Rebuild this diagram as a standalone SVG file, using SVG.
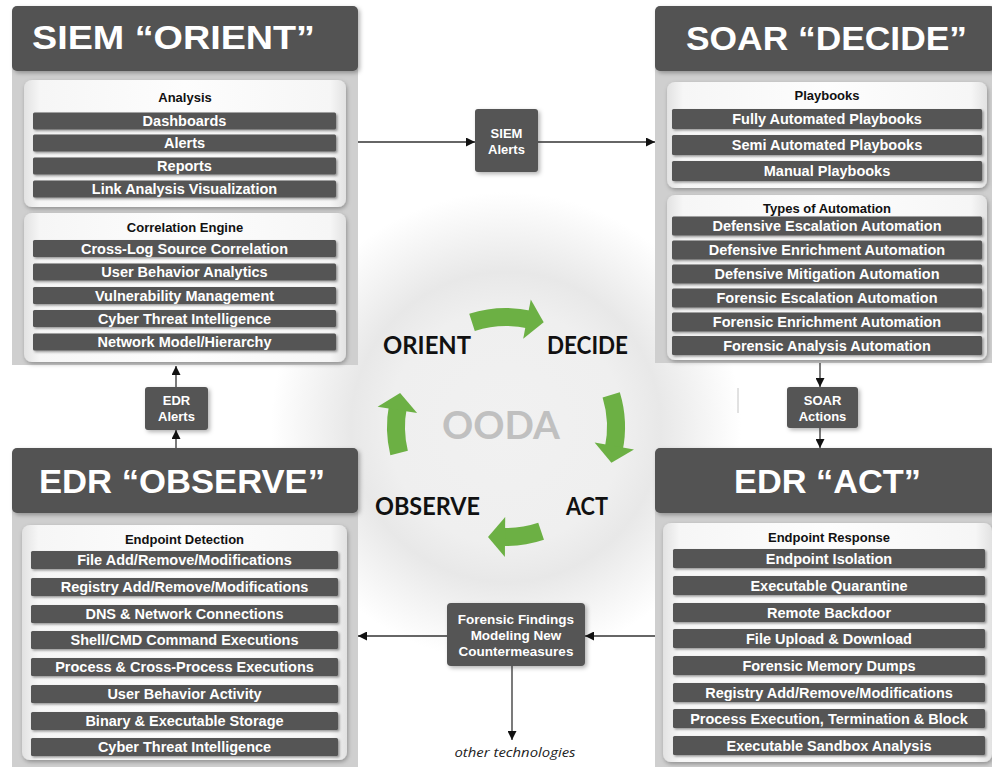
<svg xmlns="http://www.w3.org/2000/svg" width="992" height="767" viewBox="0 0 992 767">
<defs>
<style>
.hdr{fill:#525252}
.body{fill:#cfcfcf}
.card{fill:url(#cardG)}
.bar{fill:#555555}
.bt{font-family:"Liberation Sans",Arial,sans-serif;font-weight:bold;font-size:14.5px;fill:#ffffff;text-anchor:middle}
.lbl{font-family:"Liberation Sans",Arial,sans-serif;font-weight:bold;font-size:13px;fill:#111111;text-anchor:middle}
.ht{font-family:"Liberation Sans",Arial,sans-serif;font-weight:bold;font-size:34px;fill:#ffffff;text-anchor:middle}
.bx{fill:#545454}
.bxt{font-family:"Liberation Sans",Arial,sans-serif;font-weight:bold;font-size:13px;fill:#ffffff;text-anchor:middle}
.oo{font-family:Lato,"Open Sans",sans-serif;font-weight:bold;font-size:24px;fill:#111111;text-anchor:middle}
.conn{stroke:#333333;stroke-width:1.3;fill:none;marker-end:url(#ah)}
.garc{fill:none;stroke:#6cb044;stroke-width:18}
.ghead{fill:#6cb044}
</style>
<radialGradient id="bgG" cx="506" cy="427" r="235" gradientUnits="userSpaceOnUse">
<stop offset="0" stop-color="#f1f1f1"/>
<stop offset="0.5" stop-color="#efefef"/>
<stop offset="0.66" stop-color="#e8e8e8"/>
<stop offset="0.82" stop-color="#f3f3f3"/>
<stop offset="1" stop-color="#ffffff"/>
</radialGradient>
<linearGradient id="cardG" x1="0" y1="0" x2="1" y2="0">
<stop offset="0" stop-color="#e2e2e2"/>
<stop offset="0.05" stop-color="#f6f6f6"/>
<stop offset="0.5" stop-color="#fdfdfd"/>
<stop offset="0.95" stop-color="#f6f6f6"/>
<stop offset="1" stop-color="#e2e2e2"/>
</linearGradient>
<filter id="sh" x="-10%" y="-10%" width="130%" height="140%">
<feDropShadow dx="2" dy="2" stdDeviation="2" flood-color="#000" flood-opacity="0.3"/>
</filter>
<filter id="csh" x="-5%" y="-5%" width="115%" height="115%">
<feDropShadow dx="1" dy="2" stdDeviation="2" flood-color="#000" flood-opacity="0.3"/>
</filter>
<filter id="bsh" x="-5%" y="-10%" width="115%" height="130%">
<feDropShadow dx="1.5" dy="1.5" stdDeviation="1" flood-color="#000" flood-opacity="0.4"/>
</filter>
<marker id="ah" viewBox="0 0 10 10" refX="10" refY="5" markerWidth="9" markerHeight="9" orient="auto" markerUnits="userSpaceOnUse">
<path d="M0,0 L10,5 L0,10 z" fill="#111111"/>
</marker>
</defs>

<g id="background">
<rect x="0" y="0" width="992" height="767" fill="#ffffff"/>
<rect x="0" y="0" width="992" height="767" fill="url(#bgG)"/>
<line x1="738" y1="388" x2="738" y2="413" stroke="#c4c4c4" stroke-width="1"/>
</g>

<g id="siem-orient">
<rect class="body" x="12" y="60" width="346" height="305"/>
<rect class="hdr" x="12" y="6" width="346" height="65" rx="5" filter="url(#sh)"/>
<text class="ht" x="173.5" y="49" textLength="283" lengthAdjust="spacingAndGlyphs">SIEM “ORIENT”</text>
<rect class="card" x="24" y="80" width="322" height="127" rx="8" filter="url(#csh)"/>
<text class="lbl" x="185" y="101.5">Analysis</text>
<g filter="url(#bsh)">
<rect class="bar" x="33" y="112.5" width="303" height="17" rx="1.5"/>
<rect class="bar" x="33" y="134.5" width="303" height="17" rx="1.5"/>
<rect class="bar" x="33" y="157.5" width="303" height="17" rx="1.5"/>
<rect class="bar" x="33" y="180.5" width="303" height="17" rx="1.5"/>
</g>
<text class="bt" x="184.5" y="126">Dashboards</text>
<text class="bt" x="184.5" y="148">Alerts</text>
<text class="bt" x="184.5" y="171">Reports</text>
<text class="bt" x="184.5" y="194">Link Analysis Visualization</text>
<rect class="card" x="24" y="213" width="322" height="149" rx="8" filter="url(#csh)"/>
<text class="lbl" x="185" y="231.5">Correlation Engine</text>
<g filter="url(#bsh)">
<rect class="bar" x="33" y="240" width="303" height="17" rx="1.5"/>
<rect class="bar" x="33" y="263.5" width="303" height="17" rx="1.5"/>
<rect class="bar" x="33" y="287" width="303" height="17" rx="1.5"/>
<rect class="bar" x="33" y="310" width="303" height="17" rx="1.5"/>
<rect class="bar" x="33" y="333.5" width="303" height="17" rx="1.5"/>
</g>
<text class="bt" x="184.5" y="253.5">Cross-Log Source Correlation</text>
<text class="bt" x="184.5" y="277">User Behavior Analytics</text>
<text class="bt" x="184.5" y="300.5">Vulnerability Management</text>
<text class="bt" x="184.5" y="323.5">Cyber Threat Intelligence</text>
<text class="bt" x="184.5" y="347">Network Model/Hierarchy</text>
</g>

<g id="soar-decide">
<rect class="body" x="655" y="60" width="340" height="303"/>
<rect class="hdr" x="655" y="6" width="340" height="65" rx="5" filter="url(#sh)"/>
<text class="ht" x="826.5" y="50" textLength="281" lengthAdjust="spacingAndGlyphs">SOAR “DECIDE”</text>
<rect class="card" x="667" y="82" width="320" height="106" rx="8" filter="url(#csh)"/>
<text class="lbl" x="827" y="99.5">Playbooks</text>
<g filter="url(#bsh)">
<rect class="bar" x="672" y="109" width="310" height="20" rx="1.5"/>
<rect class="bar" x="672" y="135" width="310" height="20" rx="1.5"/>
<rect class="bar" x="672" y="161" width="310" height="20" rx="1.5"/>
</g>
<text class="bt" x="827" y="124">Fully Automated Playbooks</text>
<text class="bt" x="827" y="150">Semi Automated Playbooks</text>
<text class="bt" x="827" y="176">Manual Playbooks</text>
<rect class="card" x="667" y="195" width="320" height="165" rx="8" filter="url(#csh)"/>
<text class="lbl" x="827" y="212.5">Types of Automation</text>
<g filter="url(#bsh)">
<rect class="bar" x="672" y="216.5" width="310" height="19" rx="1.5"/>
<rect class="bar" x="672" y="240.5" width="310" height="19" rx="1.5"/>
<rect class="bar" x="672" y="264.5" width="310" height="19" rx="1.5"/>
<rect class="bar" x="672" y="288.5" width="310" height="19" rx="1.5"/>
<rect class="bar" x="672" y="312.5" width="310" height="19" rx="1.5"/>
<rect class="bar" x="672" y="336" width="310" height="19" rx="1.5"/>
</g>
<text class="bt" x="827" y="231">Defensive Escalation Automation</text>
<text class="bt" x="827" y="255">Defensive Enrichment Automation</text>
<text class="bt" x="827" y="279">Defensive Mitigation Automation</text>
<text class="bt" x="827" y="303">Forensic Escalation Automation</text>
<text class="bt" x="827" y="327">Forensic Enrichment Automation</text>
<text class="bt" x="827" y="350.5">Forensic Analysis Automation</text>
</g>

<g id="edr-observe">
<rect class="body" x="12" y="505" width="346" height="262"/>
<rect class="hdr" x="12" y="448" width="346" height="65" rx="5" filter="url(#sh)"/>
<text class="ht" x="182" y="493" textLength="286" lengthAdjust="spacingAndGlyphs">EDR “OBSERVE”</text>
<rect class="card" x="22" y="525" width="325" height="235" rx="8" filter="url(#csh)"/>
<text class="lbl" x="184.5" y="543.5">Endpoint Detection</text>
<g filter="url(#bsh)">
<rect class="bar" x="31" y="551" width="307" height="18" rx="1.5"/>
<rect class="bar" x="31" y="578" width="307" height="18" rx="1.5"/>
<rect class="bar" x="31" y="605" width="307" height="18" rx="1.5"/>
<rect class="bar" x="31" y="631" width="307" height="18" rx="1.5"/>
<rect class="bar" x="31" y="658" width="307" height="18" rx="1.5"/>
<rect class="bar" x="31" y="685" width="307" height="18" rx="1.5"/>
<rect class="bar" x="31" y="712" width="307" height="18" rx="1.5"/>
<rect class="bar" x="31" y="738" width="307" height="18" rx="1.5"/>
</g>
<text class="bt" x="184.5" y="565">File Add/Remove/Modifications</text>
<text class="bt" x="184.5" y="592">Registry Add/Remove/Modifications</text>
<text class="bt" x="184.5" y="619">DNS &amp; Network Connections</text>
<text class="bt" x="184.5" y="645">Shell/CMD Command Executions</text>
<text class="bt" x="184.5" y="672">Process &amp; Cross-Process Executions</text>
<text class="bt" x="184.5" y="699">User Behavior Activity</text>
<text class="bt" x="184.5" y="726">Binary &amp; Executable Storage</text>
<text class="bt" x="184.5" y="752">Cyber Threat Intelligence</text>
</g>

<g id="edr-act">
<rect class="body" x="655" y="505" width="340" height="262"/>
<rect class="hdr" x="655" y="448" width="340" height="65" rx="5" filter="url(#sh)"/>
<text class="ht" x="827.5" y="493" textLength="187" lengthAdjust="spacingAndGlyphs">EDR “ACT”</text>
<rect class="card" x="663" y="523" width="329" height="239" rx="8" filter="url(#csh)"/>
<text class="lbl" x="829" y="541.5">Endpoint Response</text>
<g filter="url(#bsh)">
<rect class="bar" x="673" y="549" width="312" height="19" rx="1.5"/>
<rect class="bar" x="673" y="576" width="312" height="19" rx="1.5"/>
<rect class="bar" x="673" y="603" width="312" height="19" rx="1.5"/>
<rect class="bar" x="673" y="629" width="312" height="19" rx="1.5"/>
<rect class="bar" x="673" y="656" width="312" height="19" rx="1.5"/>
<rect class="bar" x="673" y="683" width="312" height="19" rx="1.5"/>
<rect class="bar" x="673" y="709" width="312" height="19" rx="1.5"/>
<rect class="bar" x="673" y="736" width="312" height="19" rx="1.5"/>
</g>
<text class="bt" x="829" y="563.5">Endpoint Isolation</text>
<text class="bt" x="829" y="590.5">Executable Quarantine</text>
<text class="bt" x="829" y="617.5">Remote Backdoor</text>
<text class="bt" x="829" y="643.5">File Upload &amp; Download</text>
<text class="bt" x="829" y="670.5">Forensic Memory Dumps</text>
<text class="bt" x="829" y="697.5">Registry Add/Remove/Modifications</text>
<text class="bt" x="829" y="723.5">Process Execution, Termination &amp; Block</text>
<text class="bt" x="829" y="750.5">Executable Sandbox Analysis</text>
</g>

<g id="siem-alerts">
<rect class="bx" x="475" y="109" width="63" height="63" rx="3" filter="url(#sh)"/>
<text class="bxt" x="506.5" y="138">SIEM</text>
<text class="bxt" x="506.5" y="154">Alerts</text>
</g>

<g id="edr-alerts">
<rect class="bx" x="145" y="387" width="63" height="43" rx="3" filter="url(#sh)"/>
<text class="bxt" x="176.5" y="405">EDR</text>
<text class="bxt" x="176.5" y="421">Alerts</text>
</g>

<g id="soar-actions">
<rect class="bx" x="787" y="387" width="71" height="41" rx="3" filter="url(#sh)"/>
<text class="bxt" x="822.5" y="405">SOAR</text>
<text class="bxt" x="822.5" y="421">Actions</text>
</g>

<g id="forensic-findings">
<rect class="bx" x="447" y="603" width="138" height="63" rx="4" filter="url(#sh)"/>
<text class="bxt" x="516" y="624" style="font-size:13.5px">Forensic Findings</text>
<text class="bxt" x="516" y="640" style="font-size:13.5px">Modeling New</text>
<text class="bxt" x="516" y="656" style="font-size:13.5px">Countermeasures</text>
</g>

<g id="other-technologies">
<text x="515" y="757" textLength="121" lengthAdjust="spacingAndGlyphs" style="font-family:'Open Sans','Liberation Sans',sans-serif;font-style:italic;font-size:13px;fill:#222222;text-anchor:middle">other technologies</text>
</g>

<g id="ooda-cycle">
<text x="501" y="439" textLength="118" lengthAdjust="spacingAndGlyphs" style="font-family:Lato,'Open Sans',sans-serif;font-weight:bold;font-size:39px;fill:#c0c0c0;text-anchor:middle">OODA</text>
<text class="oo" x="427" y="354" textLength="88" lengthAdjust="spacingAndGlyphs">ORIENT</text>
<text class="oo" x="587.5" y="354" textLength="81" lengthAdjust="spacingAndGlyphs">DECIDE</text>
<text class="oo" x="427.5" y="515" textLength="105" lengthAdjust="spacingAndGlyphs">OBSERVE</text>
<text class="oo" x="587" y="515" textLength="42" lengthAdjust="spacingAndGlyphs">ACT</text>
<path class="garc" d="M472.0,322.4 A110,110 0 0 1 530.7,319.8"/>
<path class="ghead" d="M523.2,338.7 L530.8,299.4 L543.7,322.2 Z"/>
<path class="garc" d="M611.2,394.8 A110,110 0 0 1 613.6,449.9"/>
<path class="ghead" d="M594.6,442.6 L634.0,449.6 L611.4,462.8 Z"/>
<path class="garc" d="M541.1,531.3 A110,110 0 0 1 501.2,536.9"/>
<path class="ghead" d="M505.2,517.0 L504.9,557.0 L488.0,536.9 Z"/>
<path class="garc" d="M399.1,453.0 A110,110 0 0 1 398.0,406.0"/>
<path class="ghead" d="M417.1,412.9 L377.6,406.7 L400.1,393.0 Z"/>
</g>

<g id="connectors">
<line class="conn" x1="358" y1="142" x2="475" y2="142"/>
<line class="conn" x1="538" y1="142" x2="655" y2="142"/>
<line class="conn" x1="176" y1="448" x2="176" y2="430"/>
<line class="conn" x1="176" y1="387" x2="176" y2="366"/>
<line class="conn" x1="820" y1="363" x2="820" y2="387"/>
<line class="conn" x1="820" y1="428" x2="820" y2="448"/>
<line class="conn" x1="655" y1="636" x2="585" y2="636"/>
<line class="conn" x1="447" y1="636" x2="358" y2="636"/>
<line class="conn" x1="512" y1="666" x2="512" y2="740"/>
</g>
</svg>
